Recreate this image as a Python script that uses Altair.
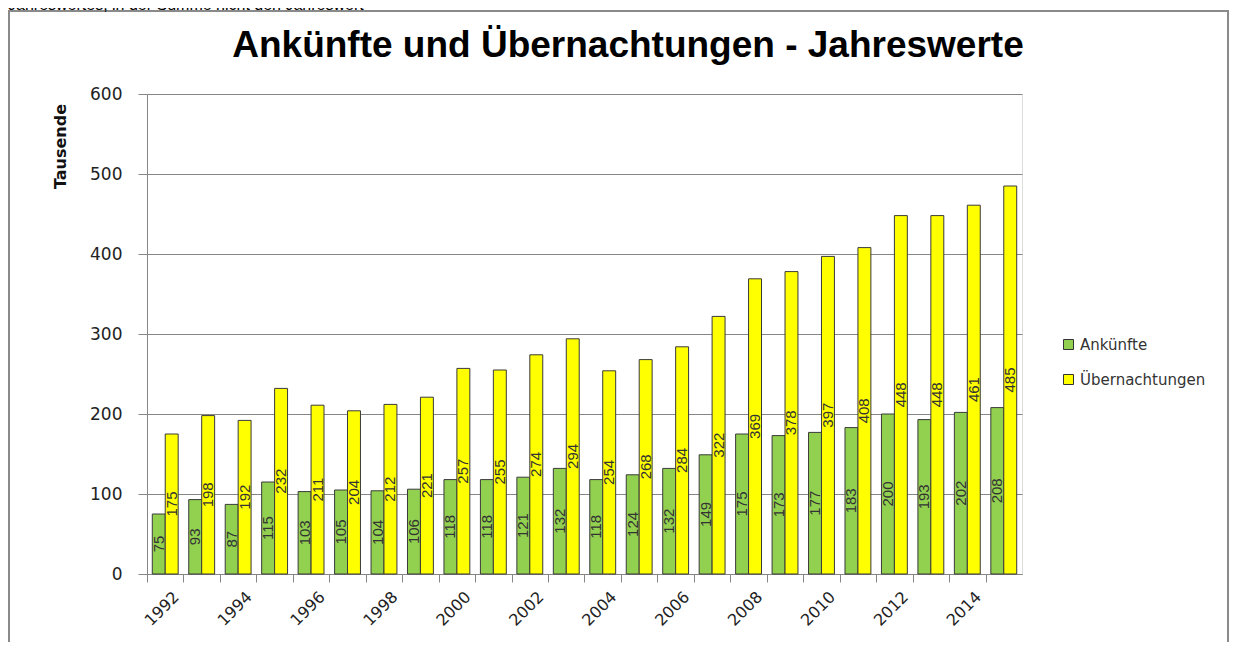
import altair as alt
import pandas as pd

years = ["1992", "1993", "1994", "1995", "1996", "1997", "1998", "1999",
         "2000", "2001", "2002", "2003", "2004", "2005", "2006", "2007",
         "2008", "2009", "2010", "2011", "2012", "2013", "2014", "2015"]
ankuenfte = [75, 93, 87, 115, 103, 105, 104, 106, 118, 118, 121, 132,
             118, 124, 132, 149, 175, 173, 177, 183, 200, 193, 202, 208]
uebernachtungen = [175, 198, 192, 232, 211, 204, 212, 221, 257, 255, 274, 294,
                   254, 268, 284, 322, 369, 378, 397, 408, 448, 448, 461, 485]
series = ["Ankünfte", "Übernachtungen"]
colors = ["#92D050", "#FFFF00"]
y_ticks = [0, 100, 200, 300, 400, 500, 600]

title_text = "Ankünfte und Übernachtungen - Jahreswerte"
top_note = "Jahreswertes, in der Summe nicht den Jahreswert"

df = pd.DataFrame({
    "Jahr": years + years,
    "Serie": [series[0]] * len(years) + [series[1]] * len(years),
    "Wert": ankuenfte + uebernachtungen,
})

W, H = 875, 480
step = W / len(years)

base = alt.Chart(df)

x_enc = alt.X(
    "Jahr:N", sort=years,
    scale=alt.Scale(paddingInner=0.29, paddingOuter=0.145),
    axis=alt.Axis(
        title=None, labelAngle=-45, labelAlign="right", labelBaseline="middle",
        labelExpr="toNumber(datum.label) % 2 == 0 ? datum.label : ''",
        tickOffset=-step / 2, tickSize=8, tickColor="#868686",
        domainColor="#868686", labelFont="DejaVu Sans", labelFontSize=16,
        labelColor="#222222", labelPadding=12, grid=False, labelOffset=29,
    ),
)
xoff = alt.XOffset("Serie:N", sort=series, scale=alt.Scale(paddingInner=0, paddingOuter=0))

bars = base.mark_bar(stroke="#3a3a3a", strokeWidth=1).encode(
    x=x_enc,
    xOffset=xoff,
    y=alt.Y(
        "Wert:Q", scale=alt.Scale(domain=[0, 600], nice=False),
        axis=alt.Axis(
            values=y_ticks, title="Tausende", titleFont="DejaVu Sans",
            titleFontSize=16, titleFontWeight="bold", titleColor="#111111",
            titleAngle=270, titleX=-87, titleY=52, titleAlign="center",
            titleBaseline="middle",
            labelFont="DejaVu Sans", labelFontSize=17, labelColor="#222222",
            tickSize=9, tickColor="#868686", domainColor="#868686",
            gridColor="#868686", labelPadding=16,
        ),
    ),
    color=alt.Color(
        "Serie:N", sort=series,
        scale=alt.Scale(domain=series, range=colors),
        legend=alt.Legend(
            title=None, orient="none", legendX=914, legendY=243,
            symbolType="square", symbolSize=100, symbolStrokeColor="#333333",
            symbolStrokeWidth=1, labelFont="DejaVu Sans", labelFontSize=15,
            labelColor="#333333", rowPadding=19, padding=0, labelOffset=4,
        ),
    ),
)

labels = base.transform_calculate(mid="datum.Wert / 2").mark_text(
    angle=270, align="center", baseline="middle", font="Liberation Sans",
    fontSize=15, color="#333333",
).encode(
    x=alt.X("Jahr:N", sort=years),
    xOffset=xoff,
    y=alt.Y("mid:Q"),
    text=alt.Text("Wert:Q"),
)

one = pd.DataFrame({"k": [0]})
frame = alt.Chart(one).mark_rect(fillOpacity=0, stroke="#8a8a8a", strokeWidth=2).encode(
    x=alt.value(-138), x2=alt.value(1081), y=alt.value(-83), y2=alt.value(600)
)
note = alt.Chart(one).mark_text(
    align="left", baseline="alphabetic", font="Liberation Sans", fontSize=16,
    color="#000000",
).encode(x=alt.value(-139), y=alt.value(-84), text=alt.value(top_note))

title = alt.Chart(one).mark_text(
    align="center", baseline="alphabetic", font="Liberation Sans", fontSize=37,
    fontWeight="bold", color="#000000",
).encode(x=alt.value(481), y=alt.value(-37), text=alt.value(title_text))

chart = alt.layer(frame, bars, labels, note, title).properties(
    width=W, height=H,
    autosize=alt.AutoSizeParams(type="none"),
    padding={"left": 139, "top": 86, "right": 207, "bottom": 68},
).configure_view(stroke=None).configure(background="white")

chart.save("out.html", embed_options={"renderer": "svg", "actions": False})
